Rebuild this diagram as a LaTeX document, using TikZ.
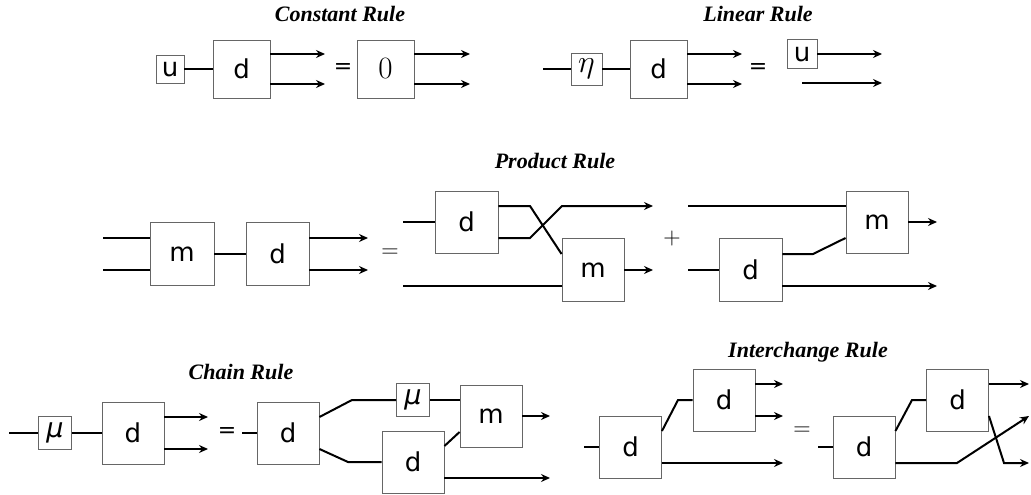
\RequirePackage{fix-cm}
\documentclass[tikz,border=0pt]{standalone}
\usepackage{fontspec}
\usetikzlibrary{arrows.meta,calc}
\newfontfamily\labfont{DejaVu Sans}
\newfontfamily\titfont{Liberation Serif}
\begin{document}
\begin{tikzpicture}[x=1pt,y=-1pt,
  bx/.style={draw=black!60,line width=0.9pt,fill=white,inner sep=0pt,font=\fontsize{26}{26}\labfont},
  sm/.style={bx,minimum width=57pt,minimum height=58pt},
  big/.style={bx,minimum width=62pt,minimum height=62pt},
  gr/.style={bx,minimum width=33pt,minimum height=33pt,font=\fontsize{27}{27}\labfont\itshape},
  wire/.style={line width=2pt,line join=miter},
  arr/.style={wire,-{Stealth[length=9pt,width=8pt,inset=3pt]}},
  ttl/.style={font=\fontsize{22}{22}\titfont\bfseries\itshape},
  eqs/.style={font=\fontsize{22}{22}\labfont},
  eqm/.style={font=\fontsize{24}{24}\selectfont}]
\useasboundingbox (0,0) rectangle (1031,495);

% ---------------- Constant Rule ----------------
\node[ttl] (t1) at (340,14) {Constant Rule};
\node[bx,minimum width=28pt,minimum height=28pt] (cu) at (170,69) {u};
\node[sm] (cd) at (241.5,69) {d};
\draw[wire] (cu) -- (cd);
\coordinate (co1) at (325,54);
\coordinate (co2) at (325,84);
\draw[arr] ([yshift=15pt]cd.east) -- (co1);
\draw[arr] ([yshift=-15pt]cd.east) -- (co2);
\node[eqs] (ce) at (343,69) {=};
\node[sm,font=\fontsize{31}{31}\selectfont] (cz) at (385.5,69) {$0$};
\coordinate (cz1) at (470,54);
\coordinate (cz2) at (470,84);
\draw[arr] ([yshift=15pt]cz.east) -- (cz1);
\draw[arr] ([yshift=-15pt]cz.east) -- (cz2);

% ---------------- Linear Rule ----------------
\node[ttl] (t2) at (758,14) {Linear Rule};
\coordinate (li) at (543,69);
\node[bx,minimum width=31pt,minimum height=32pt,font=\fontsize{32}{32}\selectfont] (le) at (586.5,69) {$\eta$};
\node[sm] (ld) at (658.5,69) {d};
\draw[wire] (li) -- (le);
\draw[wire] (le) -- (ld);
\coordinate (lo1) at (742,54);
\coordinate (lo2) at (742,84);
\draw[arr] ([yshift=15pt]ld.east) -- (lo1);
\draw[arr] ([yshift=-15pt]ld.east) -- (lo2);
\node[eqs] (leq) at (758,69) {=};
\node[bx,minimum width=30pt,minimum height=29pt] (lu) at (802,54) {u};
\coordinate (lu1) at (882,54);
\draw[arr] (lu) -- (lu1);
\coordinate (lb0) at (802,83);
\coordinate (lb1) at (882,83);
\draw[arr] (lb0) -- (lb1);

% ---------------- Product Rule ----------------
\node[ttl] (t3) at (555,161) {Product Rule};
\node[bx,minimum width=64pt,minimum height=63pt] (pm) at (182,254) {m};
\coordinate (pi1) at (103,238);
\coordinate (pi2) at (103,270);
\draw[wire] (pi1) -- ([yshift=16pt]pm.west);
\draw[wire] (pi2) -- ([yshift=-16pt]pm.west);
\node[bx,minimum width=63pt,minimum height=63pt] (pd) at (277.5,254) {d};
\draw[wire] (pm) -- (pd);
\coordinate (po1) at (368,238);
\coordinate (po2) at (368,270);
\draw[arr] ([yshift=16pt]pd.east) -- (po1);
\draw[arr] ([yshift=-16pt]pd.east) -- (po2);
\node[eqm] (peq) at (390,253) {$=$};
% first term
\node[bx,minimum width=63pt,minimum height=62pt] (qd) at (466.5,222) {d};
\coordinate (qi) at (403,222);
\draw[wire] (qi) -- (qd);
\node[bx,minimum width=62pt,minimum height=63pt] (qm) at (593,270) {m};
\coordinate (qx1) at (530,206);
\coordinate (qx2) at (530,238);
\coordinate (qtop) at (562,206);
\coordinate (qo1) at (653,206);
\coordinate (qo2) at (653,270);
\coordinate (qb) at (403,286);
\draw[wire] ([yshift=16pt]qd.east) -- (qx1) -- ([yshift=16pt]qm.west);
\draw[arr] ([yshift=-16pt]qd.east) -- (qx2) -- (qtop) -- (qo1);
\draw[wire] (qb) -- ([yshift=-16pt]qm.west);
\draw[arr] (qm) -- (qo2);
\node[eqm] (pplus) at (672,238) {$+$};
% second term
\node[big] (rm) at (877,222) {m};
\coordinate (rt) at (688,206);
\draw[wire] (rt) -- ([yshift=16pt]rm.west);
\coordinate (ro1) at (937,222);
\draw[arr] (rm) -- (ro1);
\node[bx,minimum width=63pt,minimum height=63pt] (rd) at (750.5,270) {d};
\coordinate (ri) at (688,270);
\draw[wire] (ri) -- (rd);
\coordinate (rk) at (813,254);
\draw[wire] ([yshift=16pt]rd.east) -- (rk) -- ([yshift=-16pt]rm.west);
\coordinate (ro2) at (937,286);
\draw[arr] ([yshift=-16pt]rd.east) -- (ro2);

% ---------------- Chain Rule ----------------
\node[ttl] (t4) at (241,372) {Chain Rule};
\coordinate (ki) at (9,433);
\node[gr] (kmu) at (55,433) {μ};
\node[big] (kd) at (133,433) {d};
\draw[wire] (ki) -- (kmu);
\draw[wire] (kmu) -- (kd);
\coordinate (ko1) at (208,417);
\coordinate (ko2) at (208,449);
\draw[arr] ([yshift=16pt]kd.east) -- (ko1);
\draw[arr] ([yshift=-16pt]kd.east) -- (ko2);
\node[eqs] (keq) at (227,433) {=};
\coordinate (kj) at (242,433);
\node[big] (ke) at (288,433) {d};
\draw[wire] (kj) -- (ke);
\node[gr] (kmu2) at (413,400) {μ};
\node[big] (km) at (491,416) {m};
\node[big] (kf) at (413,462) {d};
\coordinate (kk1) at (352,400);
\coordinate (kk2) at (348,462);
\draw[wire] ([yshift=16pt]ke.east) -- (kk1) -- (kmu2);
\draw[wire] (kmu2) -- ([yshift=16pt]km.west);
\draw[wire] ([yshift=-16pt]ke.east) -- (kk2) -- (kf);
\draw[wire] ([yshift=16pt]kf.east) -- ([yshift=-16pt]km.west);
\coordinate (kq1) at (550,416);
\coordinate (kq2) at (550,478);
\draw[arr] (km) -- (kq1);
\draw[arr] ([yshift=-16pt]kf.east) -- (kq2);

% ---------------- Interchange Rule ----------------
\node[ttl] (t5) at (808,352) {Interchange Rule};
\coordinate (ii) at (584,447);
\node[big] (id) at (630.5,447) {d};
\node[big] (ie) at (724,400) {d};
\coordinate (ik) at (678,400);
\draw[wire] (ii) -- (id);
\draw[wire] ([yshift=16pt]id.east) -- (ik) -- (ie);
\coordinate (io1) at (783,384);
\coordinate (io2) at (783,416);
\coordinate (io3) at (783,463);
\draw[arr] ([yshift=16pt]ie.east) -- (io1);
\draw[arr] ([yshift=-16pt]ie.east) -- (io2);
\draw[arr] ([yshift=-16pt]id.east) -- (io3);
\node[eqm] (ieq) at (802,431) {$=$};
\coordinate (ji) at (818,447);
\node[big] (jd) at (864,447) {d};
\node[big] (je) at (957.5,400) {d};
\coordinate (jk) at (912,400);
\draw[wire] (ji) -- (jd);
\draw[wire] ([yshift=16pt]jd.east) -- (jk) -- (je);
\coordinate (jo1) at (1029,384);
\coordinate (jo2) at (1029,416);
\coordinate (jo3) at (1029,463);
\coordinate (jb1) at (1004,463);
\coordinate (jb2) at (957,463);
\draw[arr] ([yshift=16pt]je.east) -- (jo1);
\draw[arr] ([yshift=-16pt]je.east) -- (jb1) -- (jo3);
\draw[arr] ([yshift=-16pt]jd.east) -- (jb2) -- (jo2);
\end{tikzpicture}
\end{document}
